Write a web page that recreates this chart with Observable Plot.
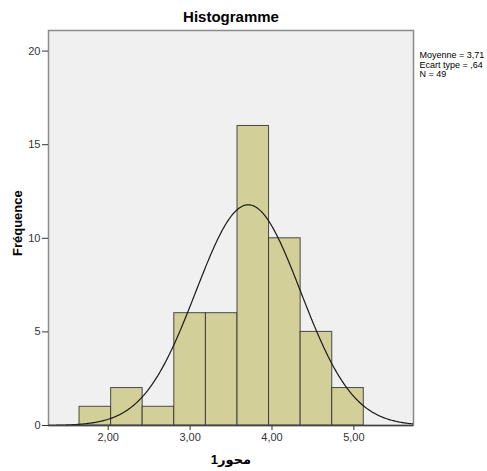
<!DOCTYPE html>
<html>
<head>
<meta charset="utf-8">
<script src="https://cdn.jsdelivr.net/npm/d3@7"></script>
<script src="https://cdn.jsdelivr.net/npm/@observablehq/plot@0.6"></script>
<style>
  html, body { margin: 0; padding: 0; background: #fff; }
  svg { display: block; }
</style>
</head>
<body>
<div id="chart"></div>
<script>
// Histogram bins (lower/upper edges) and counts
const binLower = [1.650, 2.036, 2.421, 2.807, 3.193, 3.579, 3.964, 4.350, 4.736];
const binUpper = [2.036, 2.421, 2.807, 3.193, 3.579, 3.964, 4.350, 4.736, 5.121];
const counts   = [1, 2, 1, 6, 6, 16, 10, 5, 2];
const xTicks = [2, 3, 4, 5];
const yTicks = [0, 5, 10, 15, 20];
const statsLines = ["Moyenne = 3,71", "Ecart type = ,64", "N = 49"];
const mean = 3.71, sd = 0.64, n = 49;
const titleText = "Histogramme";
const xLabel = "محور1";
const yLabel = "Fréquence";

const xDomain = [1.271, 5.728];
const yDomain = [0, 21.1];

const bars = binLower.map((lo, i) => ({x1: lo, x2: binUpper[i], y: counts[i]}));
const binWidth = binUpper[0] - binLower[0];
// fitted normal curve from the displayed statistics
const curve = d3.range(xDomain[0], xDomain[1] + 0.005, 0.01).map(x => ({
  x, y: n * binWidth * Math.exp(-0.5 * ((x - mean) / sd) ** 2) / (sd * Math.sqrt(2 * Math.PI))
}));

const font = "'Liberation Sans', Arial, 'DejaVu Sans', sans-serif";
const fmt = d => d.toFixed(2).replace(".", ",");

const statMarks = statsLines.map((s, i) =>
  Plot.text([s], {frameAnchor: "top-right", dx: 6, dy: 25 + i * 9.5, textAnchor: "start", lineAnchor: "middle", fontSize: 9, fill: "#000"})
);

const chart = Plot.plot({
  width: 487,
  height: 471,
  marginLeft: 48,
  marginRight: 74,
  marginTop: 30,
  marginBottom: 46,
  style: {fontFamily: font, fontSize: "11px", color: "#333", background: "#fff"},
  x: {domain: xDomain},
  y: {domain: yDomain},
  marks: [
    Plot.frame({fill: "#f0f0f0", stroke: "#8a8a8a", strokeWidth: 1.5}),
    Plot.rectY(bars, {x1: "x1", x2: "x2", y: "y", fill: "#d3cf99", stroke: "#2f2f2f", strokeOpacity: 0.85, strokeWidth: 1, inset: 0}),
    Plot.line(curve, {x: "x", y: "y", stroke: "#1a1a1a", strokeWidth: 1.2, clip: true}),
    Plot.axisX({ticks: xTicks, tickFormat: fmt, tickSize: 5, tickPadding: 3, label: null, stroke: "#333", fontSize: 11}),
    Plot.axisY({ticks: yTicks, tickSize: 6, tickPadding: 2, label: null, stroke: "#333", fontSize: 11}),
    Plot.ruleY([0], {stroke: "#444", strokeWidth: 1.5}),
    Plot.text([titleText], {frameAnchor: "top", dy: -13, fontSize: 15, fontWeight: "bold", fill: "#000", lineAnchor: "middle"}),
    ...statMarks,
    Plot.text([yLabel], {frameAnchor: "left", dx: -31, dy: 28, rotate: -90, fontSize: 13, fontWeight: "bold", fill: "#000"}),
    Plot.text([xLabel], {frameAnchor: "bottom", dy: 38, fontSize: 13, fontWeight: "bold", fill: "#000"})
  ]
});
document.getElementById("chart").appendChild(chart);
</script>
</body>
</html>
